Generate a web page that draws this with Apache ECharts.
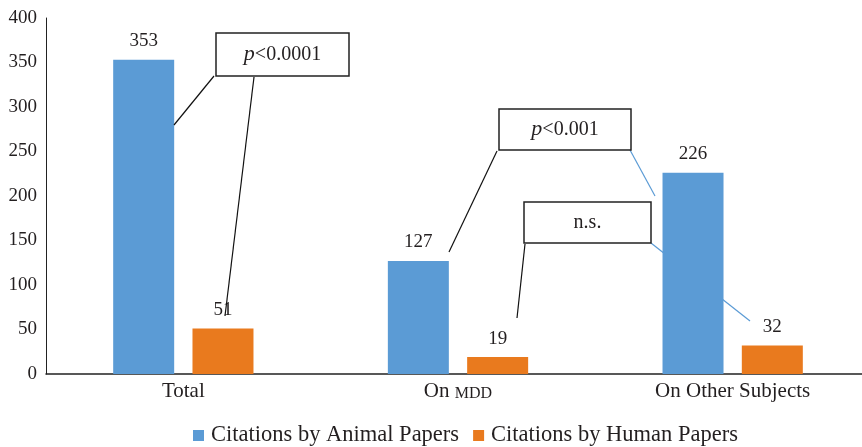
<!DOCTYPE html>
<html>
<head>
<meta charset="utf-8">
<script src="https://cdn.jsdelivr.net/npm/echarts@6/dist/echarts.min.js"></script>
<style>html,body{margin:0;padding:0;background:#fff;overflow:hidden;}#c{width:870px;height:447px;}</style>
</head>
<body>
<div id="c"></div>
<script>
const categories = ['Total', 'On MDD', 'On Other Subjects'];
const animalValues = [353, 127, 226];
const humanValues = [51, 19, 32];
const seriesNames = ['Citations by Animal Papers', 'Citations by Human Papers'];
const yTicks = { min: 0, max: 400, interval: 50 };
const annotations = ['p<0.0001', 'p<0.001', 'n.s.'];

const TXT = '#231F20';
const SERIF = '"Liberation Serif", "DejaVu Serif", serif';

const chart = echarts.init(document.getElementById('c'), null, { renderer: 'canvas' });

function boxText(t) {
  if (t.startsWith('p')) return '{i|p}{n|' + t.slice(1) + '}';
  return '{n|' + t + '}';
}
function box(x, y, w, h, t) {
  return {
    type: 'group', z: 100,
    children: [
      { type: 'rect', shape: { x: x, y: y, width: w, height: h }, z: 100,
        style: { fill: '#fff', stroke: '#222', lineWidth: 1.5 } },
      { type: 'text', x: x + w / 2, y: y + h / 2, z: 101,
        style: { text: boxText(t), align: 'center', verticalAlign: 'middle',
          rich: {
            i: { fontStyle: 'italic', fontFamily: SERIF, fontSize: 22, fill: TXT },
            n: { fontFamily: SERIF, fontSize: 20, fill: TXT }
          } } }
    ]
  };
}
function line(x1, y1, x2, y2, color, z) {
  return { type: 'line', z: z, shape: { x1: x1, y1: y1, x2: x2, y2: y2 },
    style: { stroke: color, lineWidth: 1.2 } };
}

const labelStyle = { show: true, position: 'top', distance: 9, color: TXT,
  fontFamily: SERIF, fontSize: 19 };

chart.setOption({
  animation: false,
  backgroundColor: '#fff',
  grid: { left: 46, top: 18, height: 356, right: 0, containLabel: false },
  legend: {
    data: seriesNames, top: 419, left: 188, icon: 'rect',
    itemWidth: 11, itemHeight: 11, itemGap: 14,
    textStyle: { fontFamily: SERIF, fontSize: 22.5, color: TXT, padding: [0, 0, 0, 2] }
  },
  xAxis: {
    type: 'category', data: categories,
    axisLine: { lineStyle: { color: '#222', width: 1.5 } },
    axisTick: { show: false },
    axisLabel: {
      margin: 5, color: TXT, fontFamily: SERIF, fontSize: 21,
      formatter: function (v) {
        if (v.indexOf('MDD') >= 0) return '{a|' + v.replace('MDD', '') + '}{sc|MDD}';
        return '{a|' + v + '}';
      },
      rich: {
        a: { fontFamily: SERIF, fontSize: 21, color: TXT, lineHeight: 24 },
        sc: { fontFamily: SERIF, fontSize: 16, color: TXT, lineHeight: 24, padding: [5, 0, 0, 0] }
      }
    }
  },
  yAxis: {
    type: 'value', min: yTicks.min, max: yTicks.max, interval: yTicks.interval,
    axisLine: { show: true, lineStyle: { color: '#222', width: 1 } },
    axisTick: { show: false },
    splitLine: { show: false },
    axisLabel: { margin: 9, color: TXT, fontFamily: SERIF, fontSize: 19 }
  },
  series: [
    { name: seriesNames[0], type: 'bar', data: animalValues, barWidth: 61, barGap: '30%',
      itemStyle: { color: '#5B9BD5' }, label: labelStyle, z: 5 },
    { name: seriesNames[1], type: 'bar', data: humanValues, barWidth: 61, barGap: '30%',
      itemStyle: { color: '#E97A1E' }, label: labelStyle, z: 5 }
  ],
  graphic: [
    line(651, 243, 750, 321, '#5B9BD5', 0),
    line(214, 76, 174, 125, '#111', 100),
    line(254, 77, 225, 316, '#111', 100),
    line(497, 151, 449, 252, '#111', 100),
    line(630, 150, 655, 196, '#5B9BD5', 100),
    line(525, 244, 517, 318, '#111', 100),
    box(216, 33, 133, 43, annotations[0]),
    box(499, 109, 132, 41, annotations[1]),
    box(524, 202, 127, 41, annotations[2])
  ]
});
</script>
</body>
</html>
